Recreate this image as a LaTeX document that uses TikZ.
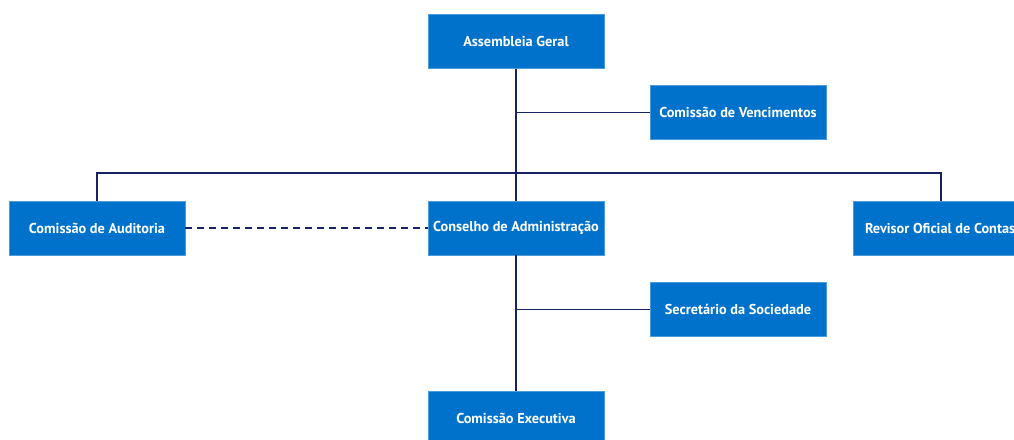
\documentclass[tikz,border=0pt]{standalone}
\usepackage{fontspec}
\setmainfont{PT Sans}
\definecolor{boxblue}{RGB}{0,114,204}
\definecolor{linenavy}{RGB}{22,34,100}
\begin{document}
\begin{tikzpicture}[x=1pt,y=-1pt,
  orgbox/.style={draw=boxblue!70!white,line width=0.6pt,fill=boxblue,text=white,font=\bfseries\fontsize{14.3}{16}\selectfont,
    minimum width=176pt,minimum height=54pt,inner sep=0pt,anchor=center},
  link/.style={draw=linenavy,line width=1.8pt},
  dlink/.style={draw=linenavy,line width=1.6pt,dash pattern=on 7pt off 5pt}]
\useasboundingbox (0,0) rectangle (1014,439);
\clip (0,0) rectangle (1014,439);
\node[orgbox] (ag)  at (516,41.5)  {Assembleia Geral};
\node[orgbox] (cv)  at (738,112.5) {Comissão de Vencimentos};
\node[orgbox] (ca)  at (97,228)    {Comissão de Auditoria};
\node[orgbox] (cad) at (516,228)   {Conselho de Administração};
\node[orgbox,inner xsep=12pt] (roc) at (941,228) {\makebox[152pt][l]{Revisor Oficial de Contas}};
\node[orgbox] (ss)  at (738,309.5) {Secretário da Sociedade};
\node[orgbox] (ce)  at (516,418)   {Comissão Executiva};
\coordinate (bus) at (516,173);
\draw[link] (ag.south) -- (cad.north);
\draw[link] (ag.south |- cv.west) -- (cv.west);
\draw[link] (ca.north) |- (bus) -| (roc.north);
\draw[dlink] (ca.east) -- (cad.west);
\draw[link] (cad.south) -- (ce.north);
\draw[link] (cad.south |- ss.west) -- (ss.west);
\end{tikzpicture}
\end{document}
